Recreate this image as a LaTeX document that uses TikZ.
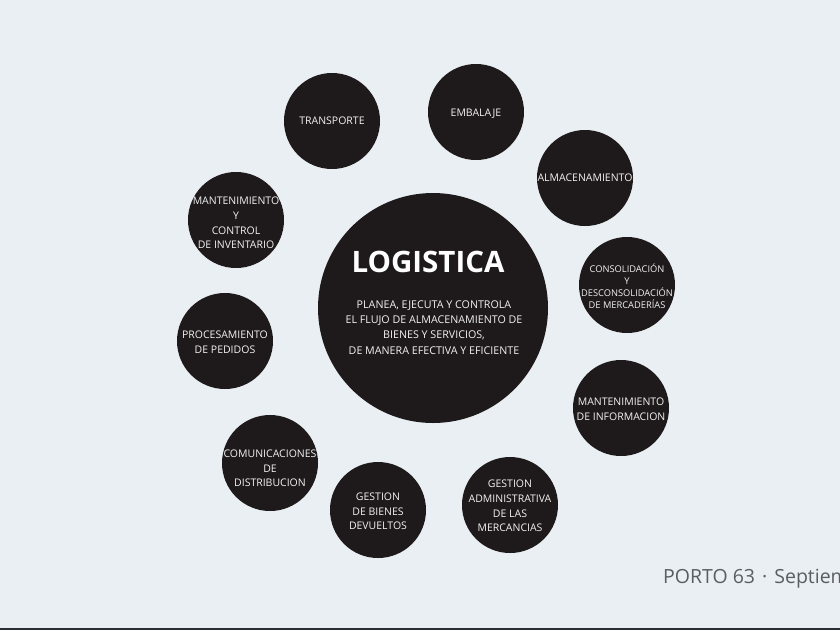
\documentclass[tikz,border=0pt]{standalone}
\usepackage{fontspec}
\setmainfont{Open Sans}
\definecolor{bg}{HTML}{E9EFF2}
\definecolor{disccol}{HTML}{1E191A}
\definecolor{footcol}{HTML}{5A5E62}
\definecolor{barcol}{HTML}{2B2F33}
\definecolor{txtcol}{HTML}{F2F2F2}
\begin{document}
\begin{tikzpicture}[x=1pt,y=-1pt,
  disc/.style={circle,fill=disccol,minimum size=96pt,inner sep=0pt},
  bigdisc/.style={circle,fill=disccol,minimum size=230pt,inner sep=0pt},
  lbl/.style={text=txtcol,align=center,inner sep=0pt,font=\fontsize{10.5}{14.6}\selectfont},
  smalllbl/.style={text=txtcol,align=center,inner sep=0pt,font=\fontsize{9.3}{12}\selectfont},
  titlelbl/.style={text=white,inner sep=0pt,font=\fontsize{29.5}{31}\selectfont\bfseries},
  desclbl/.style={text=txtcol,align=center,inner sep=0pt,font=\fontsize{10.7}{15.3}\selectfont},
  footlbl/.style={text=footcol,inner sep=0pt,font=\fontsize{19.5}{21}\selectfont}]
\useasboundingbox (0,0) rectangle (840,630);
\clip (0,0) rectangle (840,630);
\fill[bg] (0,0) rectangle (840,630);
\fill[barcol] (0,628) rectangle (840,630);

% central circle
\node[bigdisc] (center) at (433,308) {};
\node[titlelbl,anchor=base] (title) at (428,272) {LOGISTICA};
\node[desclbl] (desc) at (434,327.5) {PLANEA, EJECUTA Y CONTROLA\\EL FLUJO DE ALMACENAMIENTO DE\\BIENES Y SERVICIOS,\\DE MANERA EFECTIVA Y EFICIENTE};

% satellites
\node[disc] (transp) at (332,121) {};
\node[lbl] (transpT) at (transp) {TRANSPORTE};

\node[disc] (embal) at (476,112) {};
\node[lbl] (embalT) at ([yshift=-2]embal.center) {EMBALAJE};

\node[disc] (almac) at (585,178) {};
\node[lbl] (almacT) at (almac) {ALMACENAMIENTO};

\node[disc] (consol) at (627,285) {};
\node[smalllbl] (consolT) at ([yshift=-1]consol.center) {CONSOLIDACIÓN\\Y\\DESCONSOLIDACIÓN\\DE MERCADERÍAS};

\node[disc] (mantinfo) at (621,408) {};
\node[lbl] (mantinfoT) at ([yshift=-1.5]mantinfo.center) {MANTENIMIENTO\\DE INFORMACION};

\node[disc] (gestadm) at (510,505) {};
\node[lbl] (gestadmT) at ([yshift=-1]gestadm.center) {GESTION\\ADMINISTRATIVA\\DE LAS\\MERCANCIAS};

\node[disc] (gestdev) at (378,510) {};
\node[lbl] (gestdevT) at ([yshift=-1.5]gestdev.center) {GESTION\\DE BIENES\\DEVUELTOS};

\node[disc] (comun) at (270,463) {};
\node[lbl] (comunT) at ([yshift=-5.5]comun.center) {COMUNICACIONES\\DE\\DISTRIBUCION};

\node[disc] (proces) at (225,341) {};
\node[lbl] (procesT) at ([yshift=-1]proces.center) {PROCESAMIENTO\\DE PEDIDOS};

\node[disc] (mantinv) at (236,220) {};
\node[lbl] (mantinvT) at ([yshift=-3]mantinv.center) {MANTENIMIENTO\\Y\\CONTROL\\DE INVENTARIO};

% footer
\node[footlbl,anchor=base west] (foot) at (663,583) {PORTO 63\hspace{0.1em} · \hspace{0.1em}Septiembre};
\end{tikzpicture}
\end{document}
